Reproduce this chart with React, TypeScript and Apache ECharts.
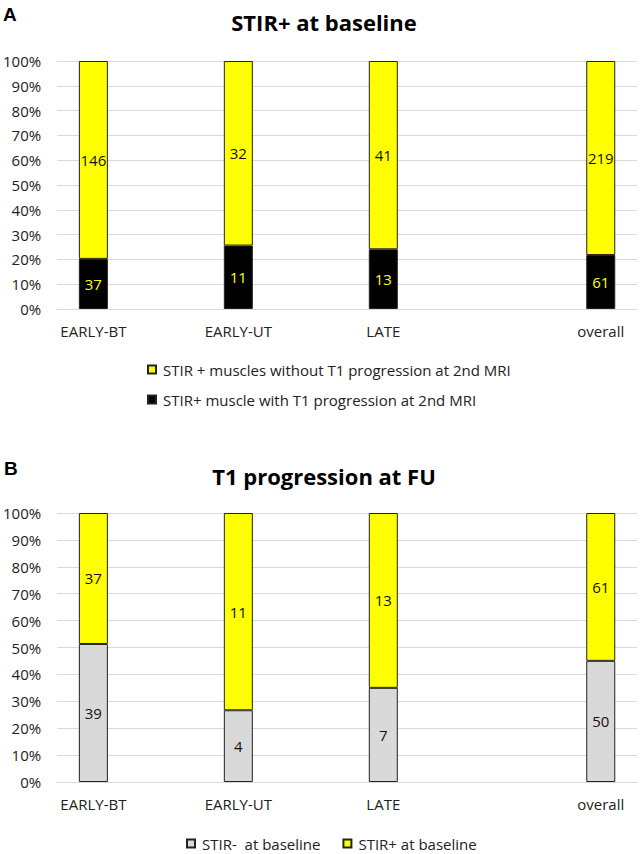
import React, { useEffect, useRef } from "react";
import * as echarts from "echarts";

const axisCategories = ["EARLY-BT", "", "EARLY-UT", "", "LATE", "", "", "overall"];
const groups = ["EARLY-BT", "EARLY-UT", "LATE", "overall"];

// Panel A counts
const aWithoutProgression = [146, 32, 41, 219];
const aWithProgression = [37, 11, 13, 61];
// Panel B counts
const bStirNegative = [39, 4, 7, 50];
const bStirPositive = [37, 11, 13, 61];

const yTicks = ["0%", "10%", "20%", "30%", "40%", "50%", "60%", "70%", "80%", "90%", "100%"];

const titleA = "STIR+ at baseline";
const titleB = "T1 progression at FU";
const legendA = ["STIR + muscles without T1 progression at 2nd MRI", "STIR+ muscle with T1 progression at 2nd MRI"];
const legendB = ["STIR-  at baseline", "STIR+ at baseline"];

const FONT = "Open Sans";

function spread(counts: number[], other: number[]) {
  return axisCategories.map((c) => {
    const i = groups.indexOf(c);
    if (i < 0) return null;
    return { value: (counts[i] / (counts[i] + other[i])) * 100, count: counts[i] };
  });
}

export default function App() {
  const ref = useRef<HTMLDivElement>(null);
  useEffect(() => {
    if (!ref.current) return;
    const chart = echarts.init(ref.current, null, { renderer: "svg" });
    const xAxisBase = (gridIndex: number) => ({
      type: "category",
      gridIndex,
      data: axisCategories,
      boundaryGap: true,
      axisTick: { show: false },
      axisLine: { show: true, lineStyle: { color: "#d9d9d9", width: 1 } },
      axisLabel: { interval: 0, margin: 14, color: "#222", fontSize: 15, fontFamily: FONT },
    });
    const yAxisBase = (gridIndex: number) => ({
      type: "value",
      gridIndex,
      min: 0,
      max: 100,
      interval: 10,
      axisLine: { show: false },
      axisTick: { show: false },
      splitLine: { lineStyle: { color: "#d9d9d9", width: 1 } },
      axisLabel: {
        margin: 16,
        color: "#222",
        fontSize: 15,
        fontFamily: FONT,
        formatter: (v: number) => yTicks[Math.round(v / 10)],
      },
    });
    const barStyle = (color: string) => ({ color, borderColor: "#222", borderWidth: 1 });
    const lbl = (color: string) => ({
      show: true,
      position: "inside",
      color,
      fontSize: 15,
      fontFamily: FONT,
      formatter: (p: any) => (p.data ? String(p.data.count) : ""),
    });
    const legendText = { fontSize: 15, fontFamily: FONT, color: "#222", lineHeight: 15, padding: [0, 0, 0, 2] };
    chart.setOption({
      animation: false,
      backgroundColor: "#fff",
      grid: [
        { left: 57, top: 61, width: 580, height: 248 },
        { left: 57, top: 513, width: 580, height: 269 },
      ],
      xAxis: [xAxisBase(0), xAxisBase(1)],
      yAxis: [yAxisBase(0), yAxisBase(1)],
      legend: [
        {
          data: legendA,
          orient: "vertical",
          left: 147,
          top: 362,
          padding: 0,
          itemWidth: 8,
          itemHeight: 8,
          itemGap: 15,
          icon: "rect",
          textStyle: legendText,
        },
        {
          data: legendB,
          orient: "horizontal",
          left: 186,
          top: 836,
          padding: 0,
          itemWidth: 8,
          itemHeight: 8,
          itemGap: 22,
          icon: "rect",
          textStyle: legendText,
        },
      ],
      series: [
        {
          name: legendA[1],
          type: "bar",
          stack: "a",
          xAxisIndex: 0,
          yAxisIndex: 0,
          barWidth: 29,
          data: spread(aWithProgression, aWithoutProgression),
          itemStyle: barStyle("#000000"),
          label: lbl("#ffff00"),
        },
        {
          name: legendA[0],
          type: "bar",
          stack: "a",
          xAxisIndex: 0,
          yAxisIndex: 0,
          barWidth: 29,
          data: spread(aWithoutProgression, aWithProgression),
          itemStyle: barStyle("#ffff00"),
          label: lbl("#111"),
        },
        {
          name: legendB[0],
          type: "bar",
          stack: "b",
          xAxisIndex: 1,
          yAxisIndex: 1,
          barWidth: 29,
          data: spread(bStirNegative, bStirPositive),
          itemStyle: barStyle("#d9d9d9"),
          label: lbl("#111"),
        },
        {
          name: legendB[1],
          type: "bar",
          stack: "b",
          xAxisIndex: 1,
          yAxisIndex: 1,
          barWidth: 29,
          data: spread(bStirPositive, bStirNegative),
          itemStyle: barStyle("#ffff00"),
          label: lbl("#111"),
        },
      ],
      graphic: [
        { type: "text", x: 3, y: 14, style: { text: "A", fontSize: 19, fontWeight: "bold", fontFamily: "Liberation Sans", fill: "#000", verticalAlign: "middle" } },
        { type: "text", x: 324, y: 22, style: { text: titleA, fontSize: 22, fontWeight: "bold", fontFamily: FONT, fill: "#000", align: "center", verticalAlign: "middle" } },
        { type: "text", x: 4, y: 468, style: { text: "B", fontSize: 19, fontWeight: "bold", fontFamily: "Liberation Sans", fill: "#000", verticalAlign: "middle" } },
        { type: "text", x: 324, y: 476, style: { text: titleB, fontSize: 22, fontWeight: "bold", fontFamily: FONT, fill: "#000", align: "center", verticalAlign: "middle" } },
      ],
    });
    return () => chart.dispose();
  }, []);
  return <div ref={ref} style={{ position: "absolute", left: 0, top: 0, width: 641, height: 854 }} />;
}
